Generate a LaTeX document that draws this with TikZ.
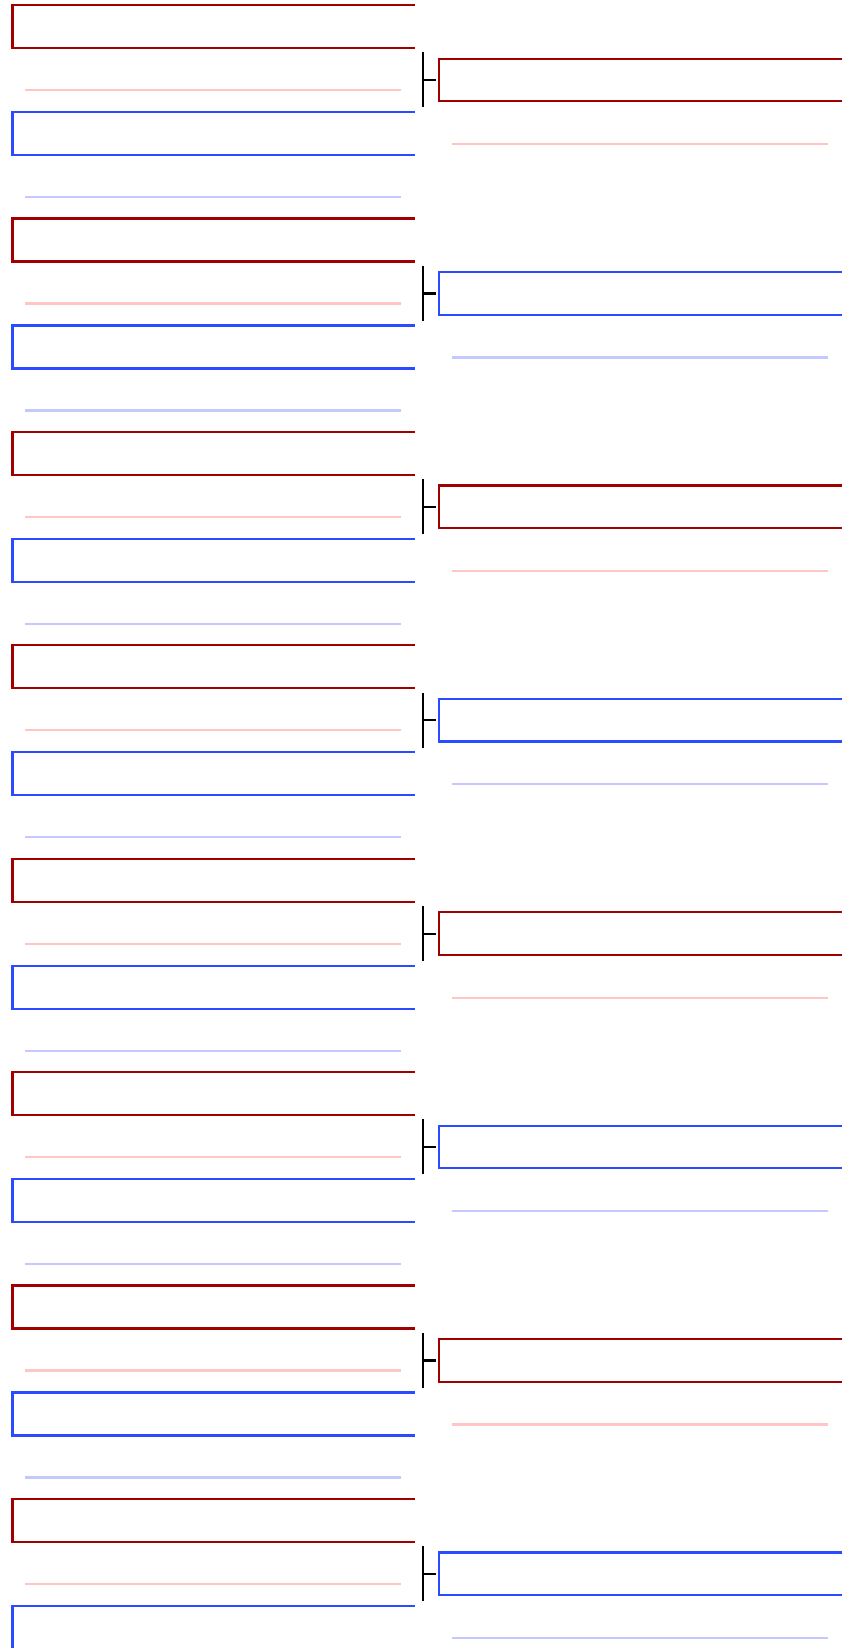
\documentclass[tikz,border=0pt]{standalone}
\usetikzlibrary{calc}
\definecolor{dred}{RGB}{160,0,0}
\definecolor{dblue}{RGB}{42,75,255}
\definecolor{lpink}{RGB}{255,198,198}
\definecolor{lblue}{RGB}{196,200,255}
\tikzset{
  brk/.style={line width=2.2pt, line cap=rect, line join=miter},
  guide/.style={line width=2.2pt},
  bar/.style={line width=2.2pt, black},
}
\begin{document}
\begin{tikzpicture}[x=1pt,y=-1pt]
\useasboundingbox (0,0) rectangle (849,1648);
\foreach \i in {0,...,7}{
  \pgfmathsetmacro\t{5+213.4*\i}
  % left red bracket
  \coordinate (lr\i) at (12.5,\t);
  \draw[brk,dred] (414,\t) -| ($(lr\i)+(0,43)$) -- (414,\t+43);
  \draw[guide,lpink] (25,\t+85) -- (401,\t+85);
  % left blue bracket
  \coordinate (lb\i) at (12.5,\t+107);
  \draw[brk,dblue] (414,\t+107) -| ($(lb\i)+(0,43)$) -- (414,\t+150);
  \ifnum\i<7
    \draw[guide,lblue] (25,\t+192) -- (401,\t+192);
  \fi
  % right column
  \pgfmathsetmacro\r{58.7+213.4*\i}
  \pgfmathtruncatemacro\odd{mod(\i,2)}
  \ifnum\odd=0
    \def\bc{dred}\def\gc{lpink}
  \else
    \def\bc{dblue}\def\gc{lblue}
  \fi
  \coordinate (rb\i) at (439.3,\r+21.3);
  \coordinate (bar\i) at (423.3,\r+21.3);
  \draw[brk,\bc] (841,\r) -| (439.3,\r+42.6) -- (841,\r+42.6);
  \draw[guide,\gc] (452,\r+85.3) -- (827.7,\r+85.3);
  \draw[bar] (423.3,\r-6.4) -- (423.3,\r+48.6);
  \draw[bar] (bar\i) -- ($(rb\i)+(-3.6,0)$);
}
\end{tikzpicture}
\end{document}
